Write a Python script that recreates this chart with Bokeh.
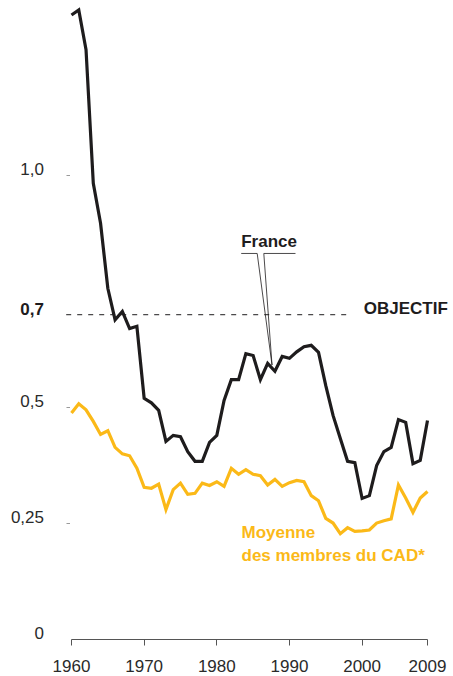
from bokeh.plotting import figure
from bokeh.models import Range1d, FixedTicker, Label
from bokeh.core.properties import value
from bokeh.embed import file_html
from bokeh.resources import INLINE

# ---- data (APD en % du RNB) ----
years = list(range(1960, 2010))
france = [1.346, 1.357, 1.271, 0.983, 0.897, 0.757, 0.689, 0.707, 0.670, 0.675,
          0.520, 0.510, 0.494, 0.427, 0.440, 0.437, 0.405, 0.384, 0.384, 0.425,
          0.440, 0.515, 0.560, 0.560, 0.616, 0.612, 0.560, 0.595, 0.578, 0.610,
          0.606, 0.620, 0.631, 0.634, 0.619, 0.547, 0.483, 0.433, 0.384, 0.381,
          0.304, 0.310, 0.375, 0.405, 0.414, 0.474, 0.468, 0.379, 0.386, 0.472]
cad = [0.488, 0.508, 0.495, 0.470, 0.442, 0.450, 0.414, 0.400, 0.396, 0.369,
       0.328, 0.326, 0.335, 0.280, 0.323, 0.337, 0.313, 0.315, 0.337, 0.332,
       0.340, 0.330, 0.369, 0.356, 0.366, 0.356, 0.353, 0.333, 0.345, 0.330,
       0.338, 0.343, 0.340, 0.310, 0.299, 0.261, 0.251, 0.228, 0.241, 0.233,
       0.234, 0.236, 0.251, 0.256, 0.260, 0.333, 0.305, 0.274, 0.305, 0.319]
xtick_vals = [1960, 1970, 1980, 1990, 2000, 2009]
ytick_vals = [1.0, 0.7, 0.5, 0.25, 0.0]
ytick_labels = ["1,0", "0,7", "0,5", "0,25", "0"]
ytick_bold = [False, True, False, False, False]
ytick_marks = [1.0, 0.5, 0.25]
objective = 0.7

BLACK = "#1e1c1d"
YELLOW = "#fbb918"
TEXT = "#2a2a2a"
FONT = "Liberation Sans"
CAP = 0.0131  # half cap height of 17px text, in data units (text sits on its baseline)

X0, X1 = 1950.228, 2012.166
p = figure(width=450, height=676,
           x_range=Range1d(X0, X1), y_range=Range1d(0, 1.3772),
           output_backend="svg", toolbar_location=None,
           min_border_left=0, min_border_right=0, min_border_top=0,
           min_border_bottom=37)
p.outline_line_color = None
p.xgrid.visible = False
p.ygrid.visible = False
p.yaxis.visible = False
p.background_fill_color = "white"
p.border_fill_color = "white"

# x axis
xa = p.xaxis[0]
xa.ticker = FixedTicker(ticks=xtick_vals)
xa.bounds = (1960, 2009)
xa.axis_line_color = "#555555"
xa.axis_line_width = 1
xa.major_tick_line_color = "#555555"
xa.major_tick_out = 6
xa.major_tick_in = 0
xa.minor_tick_line_color = None
xa.major_label_text_font = FONT
xa.major_label_text_font_size = "17px"
xa.major_label_text_color = TEXT
xa.major_label_standoff = 14

# y tick labels and small tick marks
lab_x = 1956.215
reg = [(v, t) for v, t, b in zip(ytick_vals, ytick_labels, ytick_bold) if not b]
bold = [(v, t) for v, t, b in zip(ytick_vals, ytick_labels, ytick_bold) if b]
p.text(x=[lab_x] * len(reg), y=[v + CAP for v, _ in reg], text=[t for _, t in reg],
       text_align="right", text_baseline="middle", text_font=value(FONT),
       text_font_size="17px", text_color=TEXT)
p.text(x=[lab_x] * len(bold), y=[v + CAP for v, _ in bold], text=[t for _, t in bold],
       text_align="right", text_baseline="middle", text_font=value(FONT),
       text_font_size="17px", text_color=BLACK, text_font_style="bold")
p.segment(x0=[1959.312] * len(ytick_marks), x1=[1959.794] * len(ytick_marks),
          y0=ytick_marks, y1=ytick_marks, line_color="#9a9a9a", line_width=1)

# objective line
p.line([1959.27, 1998.4], [objective, objective], line_color=BLACK,
       line_width=1, line_dash="5 6")

# series
p.line(years, cad, line_color=YELLOW, line_width=3.2, line_join="miter")
p.line(years, france, line_color=BLACK, line_width=3.2, line_join="miter")

# France callout
p.line([1983.36, 1985.56, 1987.6, 1986.47, 1990.83],
       [0.832, 0.832, 0.5915, 0.832, 0.832], line_color=BLACK, line_width=0.8)

def note(x, y, text, color):
    p.add_layout(Label(x=x, y=y + CAP, text=text, text_font=FONT,
                       text_font_size="17px", text_font_style="bold",
                       text_color=color, text_baseline="middle"))

note(1983.36, 0.845, "France", BLACK)
note(2000.23, 0.6995, "OBJECTIF", BLACK)
note(1983.4, 0.2174, "Moyenne", YELLOW)
note(1983.4, 0.1684, "des membres du CAD*", YELLOW)

open("out.html", "w").write(file_html(p, INLINE))
